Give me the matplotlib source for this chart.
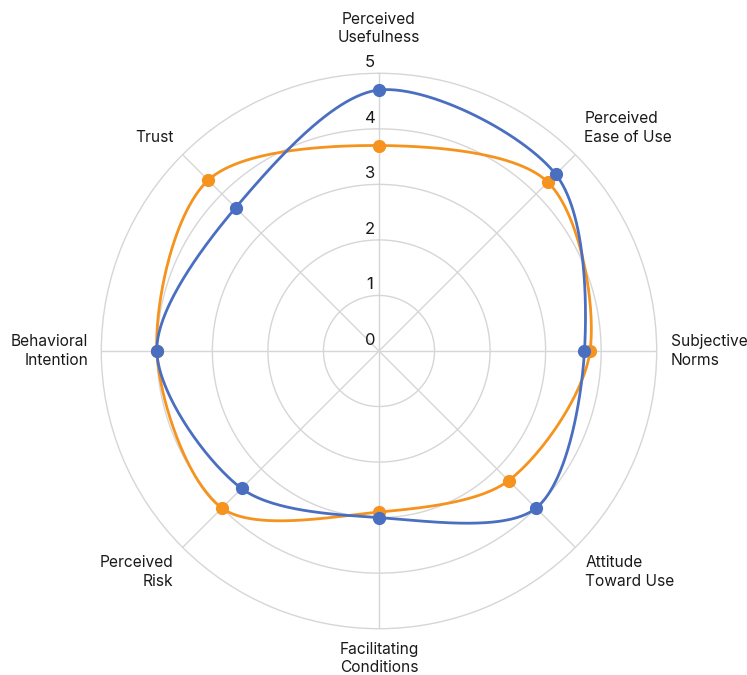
import numpy as np
import matplotlib
matplotlib.use("Agg")
import matplotlib.pyplot as plt

categories = ["Perceived\nUsefulness", "Perceived\nEase of Use", "Subjective\nNorms",
              "Attitude\nToward Use", "Facilitating\nConditions", "Perceived\nRisk",
              "Behavioral\nIntention", "Trust"]
series_blue = [4.7, 4.5, 3.7, 4.0, 3.0, 3.5, 4.0, 3.65]
series_orange = [3.7, 4.3, 3.8, 3.3, 2.9, 4.0, 4.0, 4.35]
r_ticks = [0, 1, 2, 3, 4, 5]

BLUE = "#4A6FC0"
ORANGE = "#F5931E"
GRID = "#d6d6d6"
TENSION = 0.3

plt.rcParams['font.family'] = ['Inter', 'DejaVu Sans']

fig = plt.figure(figsize=(7.47, 6.75), dpi=100)
ax = fig.add_axes([0.1356, 0.0686, 0.7435, 0.8228], projection='polar')
ax.set_theta_zero_location('N')
ax.set_theta_direction(-1)
ax.set_ylim(0, 5)

n = len(categories)
angles = np.arange(n) * 2 * np.pi / n

# grid
ax.grid(False)
ax.set_xticks([])
ax.set_yticks([])
ax.spines['polar'].set_color(GRID)
ax.spines['polar'].set_linewidth(1.0)
tt = np.linspace(0, 2 * np.pi, 400)
for k in r_ticks[1:-1]:
    ax.plot(tt, np.full_like(tt, k), color=GRID, lw=1.0, zorder=1)
for a in angles:
    ax.plot([a, a], [0, 5], color=GRID, lw=1.0, zorder=1)


def spline_polar(vals):
    vals = np.asarray(vals, float)
    x = vals * np.sin(angles)
    y = vals * np.cos(angles)
    P = np.stack([x, y], axis=1)
    m = len(P)
    cp1 = np.zeros_like(P)
    cp2 = np.zeros_like(P)
    for i in range(m):
        prev, cur, nxt = P[i - 1], P[i], P[(i + 1) % m]
        d01 = np.hypot(*(cur - prev))
        d12 = np.hypot(*(nxt - cur))
        s01 = d01 / (d01 + d12)
        s12 = d12 / (d01 + d12)
        cp1[i] = cur - TENSION * s01 * (nxt - prev)
        cp2[i] = cur + TENSION * s12 * (nxt - prev)
    t = np.linspace(0, 1, 60)[:, None]
    pts = []
    for i in range(m):
        p0, p1, p2, p3 = P[i], cp2[i], cp1[(i + 1) % m], P[(i + 1) % m]
        seg = ((1 - t) ** 3) * p0 + 3 * ((1 - t) ** 2) * t * p1 + 3 * (1 - t) * t ** 2 * p2 + t ** 3 * p3
        pts.append(seg)
    pts = np.vstack(pts)
    th = np.unwrap(np.arctan2(pts[:, 0], pts[:, 1]))
    rr = np.hypot(pts[:, 0], pts[:, 1])
    return th, rr


for vals, col, z in [(series_orange, ORANGE, 3), (series_blue, BLUE, 4)]:
    th, rr = spline_polar(vals)
    ax.plot(th, rr, color=col, lw=2.0, zorder=z, clip_on=False)
    ax.plot(angles, vals, 'o', color=col, ms=8.5, zorder=z + 0.5, clip_on=False)

# radial tick labels
for k in r_ticks:
    ax.annotate(str(k), xy=(0, k), xytext=(-9, 3), textcoords='offset pixels',
                ha='center', va='bottom', fontsize=12, color='#1a1a1a', zorder=5)

# category labels
offsets = [
    ((0, 28), 'center', 'bottom'),
    ((9, 10), 'left', 'bottom'),
    ((14, 0), 'left', 'center'),
    ((10, -8), 'left', 'top'),
    ((0, -13), 'center', 'top'),
    ((-9, -8), 'right', 'top'),
    ((-13, 0), 'right', 'center'),
    ((-9, 10), 'right', 'bottom'),
]
for a, lab, (off, ha, va) in zip(angles, categories, offsets):
    ax.annotate(lab, xy=(a, 5), xytext=off, textcoords='offset pixels',
                ha=ha, va=va, multialignment=ha if ha != 'center' else 'center',
                fontsize=11.2, color='#1a1a1a', linespacing=1.3, annotation_clip=False)

fig.savefig("out.png", dpi=100, facecolor='white')
